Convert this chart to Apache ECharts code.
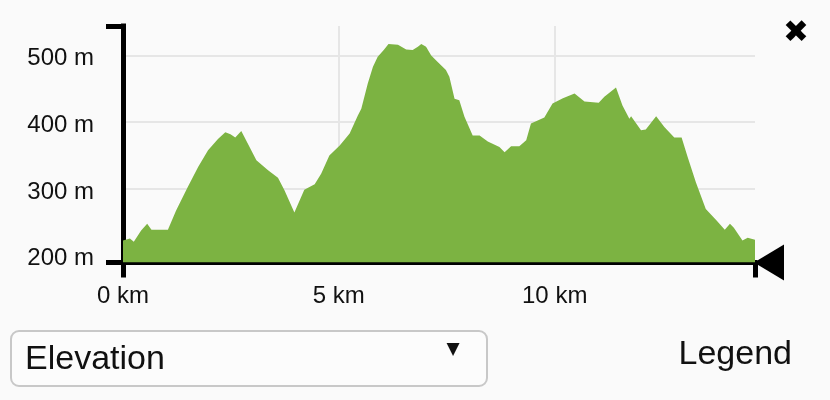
<!DOCTYPE html>
<html>
<head>
<meta charset="utf-8">
<script src="https://cdn.jsdelivr.net/npm/echarts@6/dist/echarts.min.js"></script>
<style>
  html, body { margin: 0; padding: 0; background: #fafafa; }
  #chart { width: 830px; height: 400px; }
</style>
</head>
<body>
<div id="chart"></div>
<script>
// Distance along the route (km)
const distanceKm = [
  0.00, 0.16, 0.25, 0.42, 0.56, 0.66, 1.04, 1.23, 1.50, 1.74, 1.97, 2.20, 2.37, 2.49, 2.60, 2.74,
  2.89, 3.09, 3.36, 3.59, 3.74, 3.97, 4.20, 4.44, 4.59, 4.78, 5.02, 5.25, 5.44, 5.52, 5.67, 5.79,
  5.90, 6.04, 6.15, 6.37, 6.56, 6.71, 6.83, 6.91, 7.02, 7.14, 7.29, 7.48, 7.56, 7.68, 7.79, 7.91,
  8.10, 8.26, 8.45, 8.72, 8.84, 8.99, 9.18, 9.34, 9.45, 9.76, 9.95, 10.19, 10.46, 10.69, 11.02,
  11.15, 11.42, 11.57, 11.73, 11.77, 12.00, 12.11, 12.35, 12.54, 12.77, 12.94, 13.08, 13.27, 13.50,
  13.75, 13.94, 14.06, 14.15, 14.35, 14.47, 14.64
];
// Elevation (m)
const elevationM = [
  223, 226, 221, 238, 248, 239, 239, 268, 303, 333, 358, 375, 385, 382, 377, 387,
  368, 343, 328, 317, 298, 265, 299, 307, 323, 350, 365, 383, 410, 420, 458, 483,
  498, 508, 517, 516, 509, 508, 513, 517, 513, 500, 490, 478, 468, 435, 433, 408,
  380, 380, 371, 363, 355, 364, 364, 373, 398, 407, 428, 436, 443, 431, 429,
  438, 452, 425, 405, 409, 388, 389, 409, 393, 377, 377, 348, 310, 270,
  253, 239, 248, 242, 223, 227, 224
];
const yTickLabels = [200, 300, 400, 500];
const yGridValues = [300, 400, 500];
const xTickLabels = [0, 5, 10];
const xGridValues = [5, 10];
const seriesName = 'Elevation';

const xMax = distanceKm[distanceKm.length - 1];
const yMin = 190, yMax = 544;

const chart = echarts.init(document.getElementById('chart'), null, { renderer: 'canvas' });
const font = 'Liberation Sans, Arial, sans-serif';

chart.setOption({
  backgroundColor: '#fafafa',
  animation: false,
  grid: { left: 123, right: 75, top: 26, bottom: 137.5 },
  xAxis: [
    {
      type: 'value', min: 0, max: xMax, position: 'bottom',
      axisLine: {
        show: true,
        lineStyle: { color: '#000', width: 5, cap: 'square' },
        symbol: ['none', 'path://M0,0L36,0L18,30Z'],
        symbolSize: [36, 30],
        symbolOffset: [0, 14]
      },
      axisTick: { show: true, customValues: [0, xMax], length: 15, lineStyle: { color: '#000', width: 5 } },
      axisLabel: { show: false },
      splitLine: { show: false }
    },
    {
      type: 'value', min: 0, max: xMax, position: 'bottom',
      axisLine: { show: false },
      axisTick: { show: false, customValues: xGridValues },
      axisLabel: {
        show: true, customValues: xTickLabels, formatter: '{value} km',
        fontSize: 24, color: '#111', fontFamily: font, margin: 22
      },
      splitLine: { show: true, lineStyle: { color: '#e6e6e6', width: 2 } }
    }
  ],
  yAxis: [
    {
      type: 'value', min: yMin, max: yMax, position: 'left', offset: 5,
      axisLine: { show: true, lineStyle: { color: '#000', width: 5, cap: 'square' } },
      axisTick: { show: true, customValues: [yMin, yMax], length: 17, lineStyle: { color: '#000', width: 5 } },
      axisLabel: { show: false },
      splitLine: { show: false }
    },
    {
      type: 'value', min: yMin, max: yMax, position: 'left',
      axisLine: { show: false },
      axisTick: { show: false, customValues: yGridValues },
      axisLabel: {
        show: true, customValues: yTickLabels,
        formatter: v => '{a|' + v + ' m}',
        margin: 29,
        rich: { a: { fontSize: 24, color: '#111', fontFamily: font, padding: [6, 0, 0, 0] } }
      },
      splitLine: { show: true, lineStyle: { color: '#e6e6e6', width: 2 } }
    }
  ],
  series: [
    {
      name: seriesName,
      type: 'line',
      xAxisIndex: 0, yAxisIndex: 0,
      data: distanceKm.map((d, i) => [d, elevationM[i]]),
      showSymbol: false,
      lineStyle: { width: 0 },
      itemStyle: { color: '#7cb342' },
      areaStyle: { color: '#7cb342', opacity: 1 },
      z: 1
    }
  ],
  graphic: [
    { type: 'text', x: 796, y: 34, style: { text: '✖', fontSize: 31, fontFamily: 'DejaVu Sans', fill: '#000', align: 'center', verticalAlign: 'middle' } },
    { type: 'rect', shape: { x: 11, y: 331, width: 476, height: 55, r: 8 },
      style: { fill: '#fcfcfc', stroke: '#c8c8c8', lineWidth: 2 } },
    { type: 'text', x: 25, y: 360, style: { text: 'Elevation', fontSize: 34, fontFamily: font, fill: '#111', verticalAlign: 'middle' } },
    { type: 'text', x: 453, y: 350, style: { text: '▼', fontSize: 17, fontFamily: 'DejaVu Sans', fill: '#111', align: 'center', verticalAlign: 'middle' } },
    { type: 'text', x: 792, y: 355, style: { text: 'Legend', fontSize: 34, fontFamily: font, fill: '#111', align: 'right', verticalAlign: 'middle' } }
  ]
});
</script>
</body>
</html>
